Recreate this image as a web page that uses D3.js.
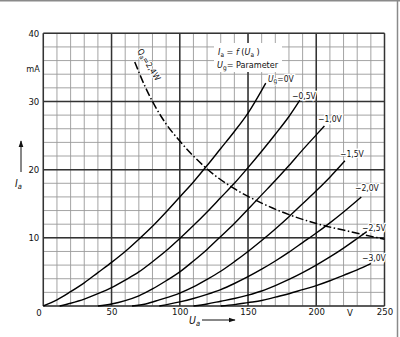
<!DOCTYPE html>
<html><head><meta charset="utf-8">
<script src="https://cdn.jsdelivr.net/npm/d3@7"></script>
<style>
html,body{margin:0;padding:0;background:#fff;}
svg{display:block;}
text{font-family:"Liberation Sans Narrow","DejaVu Sans Condensed","Liberation Sans",sans-serif;fill:#111;}
</style></head>
<body>
<script>
// ---- data ----
const xTickValues = [0, 50, 100, 150, 200, 250];
const yTickValues = [0, 10, 20, 30, 40];
const gridLabels = ["0V", "−0,5V", "−1,0V", "−1,5V", "−2,0V", "−2,5V", "−3,0V"];

const curve0V   = [[0,0],[10,0.9],[20,2.1],[30,3.4],[40,4.9],[50,6.4],[60,8.0],[70,9.8],[80,11.7],[90,13.8],[100,16.0],[110,18.2],[120,20.6],[130,23.1],[140,25.6],[150,28.3],[163,32.7]];
const curveM05  = [[12,0],[20,0.4],[30,1.0],[40,1.8],[50,2.7],[60,3.8],[70,5.0],[80,6.5],[90,8.1],[100,9.9],[110,11.8],[120,13.8],[130,15.9],[140,18.0],[150,20.3],[160,22.7],[170,25.2],[180,27.8],[188,30.2]];
const curveM10  = [[40,0],[50,0.3],[60,0.8],[70,1.5],[80,2.5],[90,3.7],[100,5.0],[110,6.6],[120,8.3],[130,10.2],[140,12.1],[150,14.2],[160,16.3],[170,18.4],[180,20.6],[190,22.9],[200,25.1],[206,26.4]];
const curveM15  = [[65,0],[75,0.3],[85,0.9],[100,1.9],[110,2.8],[120,3.9],[130,5.1],[140,6.5],[150,8.0],[160,9.6],[170,11.3],[180,13.1],[190,15.0],[200,16.9],[210,18.9],[221,21.3]];
const curveM20  = [[85,0],[100,0.6],[110,1.1],[120,1.7],[130,2.4],[140,3.3],[150,4.3],[160,5.4],[170,6.6],[180,7.9],[190,9.3],[200,10.7],[210,12.2],[220,13.8],[233,16.0]];
const curveM25  = [[110,0],[120,0.3],[130,0.7],[140,1.1],[150,1.6],[160,2.2],[170,3.0],[180,3.9],[190,4.9],[200,6.0],[210,7.2],[220,8.5],[230,9.9],[237,10.9]];
const curveM30  = [[130,0],[140,0.2],[150,0.5],[160,0.8],[170,1.3],[180,1.8],[190,2.4],[200,3.0],[210,3.7],[220,4.5],[230,5.3],[240,6.2]];
const powerLimit = [[67,35.8],[75,32.0],[90,26.7],[100,24.2],[120,20.1],[140,17.2],[160,15.1],[180,13.4],[200,12.1],[225,10.9],[250,9.8]];

const curves = [curve0V, curveM05, curveM10, curveM15, curveM20, curveM25, curveM30];

// ---- drawing ----
const W = 400, H = 337;
const svg = d3.select("body").append("svg").attr("width", W).attr("height", H);

// scanned frame edges
svg.append("line").attr("x1",0).attr("x2",W).attr("y1",0.75).attr("y2",0.75).attr("stroke","#8a8a8a").attr("stroke-width",1.5);
svg.append("line").attr("x1",397.5).attr("x2",397.5).attr("y1",0).attr("y2",H).attr("stroke","#8a8a8a").attr("stroke-width",1.5);

const x = d3.scaleLinear().domain([0,250]).range([43.3,384.5]);
const y = d3.scaleLinear().domain([0,40]).range([306,33.3]);

const grid = svg.append("g");
// minor grid
grid.selectAll(".vx").data(x.ticks(25)).join("line")
  .attr("x1",d=>x(d)).attr("x2",d=>x(d)).attr("y1",y(0)).attr("y2",y(40))
  .attr("stroke","#9a9a9a").attr("stroke-width",0.9);
grid.selectAll(".hy").data(y.ticks(20)).join("line")
  .attr("y1",d=>y(d)).attr("y2",d=>y(d)).attr("x1",x(0)).attr("x2",x(250))
  .attr("stroke","#9a9a9a").attr("stroke-width",0.9);
// major grid
grid.selectAll(".VX").data(xTickValues).join("line")
  .attr("x1",d=>x(d)).attr("x2",d=>x(d)).attr("y1",y(0)).attr("y2",y(40))
  .attr("stroke","#333").attr("stroke-width",1.5);
grid.selectAll(".HY").data(yTickValues).join("line")
  .attr("y1",d=>y(d)).attr("y2",d=>y(d)).attr("x1",x(0)).attr("x2",x(250))
  .attr("stroke","#333").attr("stroke-width",1.5);

// axes tick labels
const xAxis = svg.append("g").attr("transform",`translate(0,${y(0)})`)
  .call(d3.axisBottom(x).tickValues(xTickValues.slice(1)).tickSize(0).tickPadding(2));
xAxis.select(".domain").remove();
xAxis.selectAll("text").attr("font-size",9.5).attr("fill","#111").style("font-family",null);
svg.append("text").attr("x",39).attr("y",315.5).attr("text-anchor","middle").attr("font-size",9.5).text(xTickValues[0]);

const yAxis = svg.append("g").attr("transform",`translate(${x(0)},0)`)
  .call(d3.axisLeft(y).tickValues(yTickValues.slice(1)).tickSize(0).tickPadding(4));
yAxis.select(".domain").remove();
yAxis.selectAll("text").attr("font-size",9.5).attr("fill","#111").style("font-family",null);

svg.append("text").attr("x",33).attr("y",71.5).attr("text-anchor","middle").attr("font-size",9).text("mA");
svg.append("text").attr("x",350).attr("y",315.5).attr("text-anchor","middle").attr("font-size",9.5).text("V");

// axis names with arrows
const defs = svg.append("defs");
defs.append("marker").attr("id","ah").attr("viewBox","0 0 10 10").attr("refX",9).attr("refY",5)
  .attr("markerWidth",7).attr("markerHeight",7).attr("markerUnits","userSpaceOnUse").attr("orient","auto")
  .append("path").attr("d","M0,1.5L10,5L0,8.5Z").attr("fill","#111");
svg.append("line").attr("x1",21).attr("x2",21).attr("y1",172).attr("y2",141).attr("stroke","#111").attr("stroke-width",1).attr("marker-end","url(#ah)");
const ia = svg.append("text").attr("x",15).attr("y",187).attr("font-size",10.5).attr("font-style","italic");
ia.append("tspan").text("I");
ia.append("tspan").attr("dy",2).attr("font-size",7.5).text("a");
svg.append("line").attr("x1",202).attr("x2",235).attr("y1",320).attr("y2",320).attr("stroke","#111").attr("stroke-width",1).attr("marker-end","url(#ah)");
const ua = svg.append("text").attr("x",189).attr("y",324).attr("font-size",10.5).attr("font-style","italic");
ua.append("tspan").text("U");
ua.append("tspan").attr("dy",2).attr("font-size",7.5).text("a");

// legend box
svg.append("rect").attr("x",214).attr("y",43).attr("width",68).attr("height",29).attr("fill","#fff");
const t1 = svg.append("text").attr("x",218).attr("y",55).attr("font-size",9);
t1.append("tspan").attr("font-style","italic").text("I");
t1.append("tspan").attr("dy",1.5).attr("font-size",6.5).text("a");
t1.append("tspan").attr("dy",-1.5).text(" = ");
t1.append("tspan").attr("font-style","italic").text("f");
t1.append("tspan").text(" (");
t1.append("tspan").attr("font-style","italic").text("U");
t1.append("tspan").attr("dy",1.5).attr("font-size",6.5).text("a");
t1.append("tspan").attr("dy",-1.5).text(" )");
const t2 = svg.append("text").attr("x",217).attr("y",68).attr("font-size",9);
t2.append("tspan").attr("font-style","italic").text("U");
t2.append("tspan").attr("dy",1.5).attr("font-size",6.5).text("g");
t2.append("tspan").attr("dy",-1.5).text("= Parameter");

// characteristic curves
const line = d3.line().x(d=>x(d[0])).y(d=>y(d[1])).curve(d3.curveMonotoneX);
svg.append("g").selectAll("path").data(curves).join("path")
  .attr("d",line).attr("fill","none").attr("stroke","#000").attr("stroke-width",1.4);

// power dissipation limit
svg.append("path").datum(powerLimit).attr("d",line).attr("fill","none").attr("stroke","#000")
  .attr("stroke-width",1.5).attr("stroke-dasharray","8,2.5,1.5,2.5");

// curve labels
const labelPos = [[268,81.5],[292,98.5],[318,121.5],[340,156.5],[355,190.5],[362,230.5],[362,260.5]];
const lg = svg.append("g");
curves.forEach((c,i)=>{
  const p = labelPos[i];
  const t = lg.append("text").attr("x",p[0]).attr("y",p[1]).attr("font-size",8.5)
    .attr("stroke","#fff").attr("stroke-width",2.5).attr("paint-order","stroke");
  if(i===0){
    t.append("tspan").attr("font-style","italic").text("U");
    t.append("tspan").attr("dy",1.5).attr("font-size",6.5).text("g");
    t.append("tspan").attr("dy",-1.5).text("="+gridLabels[i]);
  } else t.text(gridLabels[i]);
});

// Qa label rotated along the dash-dot curve
const q = svg.append("text").attr("transform","translate(137,51) rotate(58)").attr("font-size",8.5)
  .attr("stroke","#fff").attr("stroke-width",2).attr("paint-order","stroke");
q.append("tspan").text("Q");
q.append("tspan").attr("dy",1.5).attr("font-size",6.5).text("a");
q.append("tspan").attr("dy",-1.5).text("=2,4W");
</script>
</body></html>
